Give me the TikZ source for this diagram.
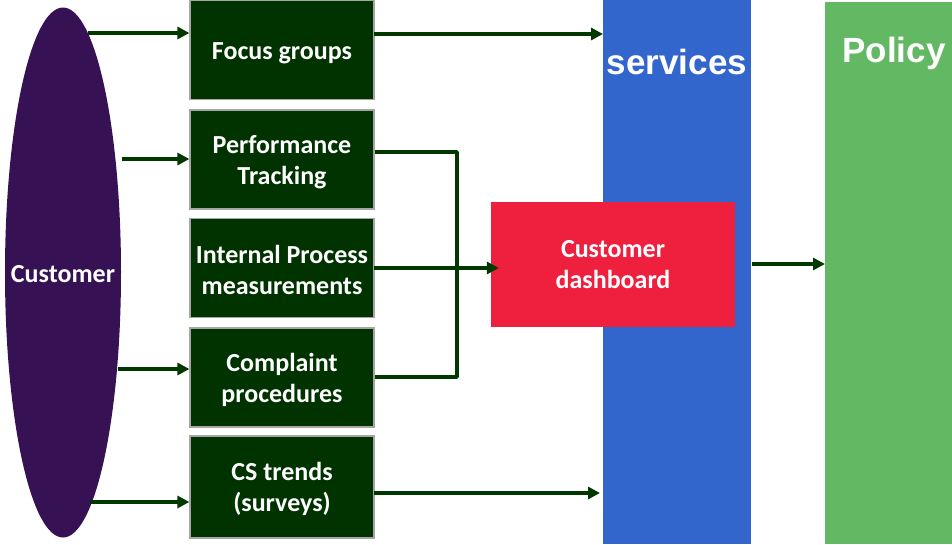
\documentclass[tikz,border=0pt]{standalone}
\usepackage{fontspec}
\setmainfont{Carlito}
\newfontfamily\arialfont{Liberation Sans}
\usetikzlibrary{arrows.meta,shapes.geometric}
\definecolor{custpurple}{RGB}{54,18,84}
\definecolor{boxgreen}{RGB}{0,51,0}
\definecolor{linegreen}{RGB}{0,56,0}
\definecolor{servblue}{RGB}{51,102,204}
\definecolor{polgreen}{RGB}{99,185,99}
\definecolor{dashred}{RGB}{238,32,62}
\tikzset{
  bodyfont/.style={font=\fontsize{26}{31.5}\selectfont\bfseries},
  srcbox/.style={draw=gray!70, line width=1.2pt, fill=boxgreen,
    minimum width=184pt, minimum height=99pt, inner sep=0pt},
  boxtext/.style={text=white, inner sep=0pt, align=center, bodyfont},
  arr/.style={draw=linegreen, line width=3.5pt, -{Triangle[length=12pt,width=12pt]}},
  plain/.style={draw=linegreen, line width=3.5pt, line join=round},
  bigtext/.style={text=white, font=\arialfont\fontsize{35}{40}\selectfont\bfseries, inner sep=0pt}
}
\begin{document}
\begin{tikzpicture}[x=1pt,y=-1pt]
\useasboundingbox (0,0) rectangle (952,544);
% bars
\node[fill=servblue, minimum width=148pt, minimum height=544pt, inner sep=0pt, anchor=north west] (serv) at (603,0) {};
\node[bigtext] (servt) at (677,62) {services};
\node[fill=polgreen, minimum width=127pt, minimum height=542pt, inner sep=0pt, anchor=north west] (pol) at (825,2) {};
\node[bigtext] (polt) at (894,53) {Policy};
% customer
\node[ellipse, fill=custpurple, minimum width=116pt, minimum height=530pt, inner sep=0pt] (cust) at (63,272.5) {};
\node[boxtext] (custt) at (63,274) {Customer};
% boxes
\node[srcbox] (fg) at (282,50) {};
\node[boxtext] (fgt) at (282,53) {Focus groups};
\node[srcbox] (pt) at (282,159.5) {};
\node[boxtext] (ptt) at (282,162) {Performance\\Tracking};
\node[srcbox] (ip) at (282,268) {};
\node[boxtext] (ipt) at (282,270) {Internal Process\\measurements};
\node[srcbox] (cp) at (282,377.5) {};
\node[boxtext] (cpt) at (282,380) {Complaint\\procedures};
\node[srcbox, minimum height=102pt] (cs) at (282,487) {};
\node[boxtext] (cst) at (282,489) {CS trends\\(surveys)};
% dashboard
\node[fill=dashred, minimum width=244pt, minimum height=125pt, inner sep=0pt] (dash) at (613,264.5) {};
\node[boxtext] (dasht) at (613,264.5) {Customer\\dashboard};
% coordinates
\coordinate (e1) at (88,33);
\coordinate (e2) at (122,159);
\coordinate (e3) at (118,369);
\coordinate (e4) at (90,502);
\coordinate (f1) at (374,34);
\coordinate (b1) at (457,152);
\coordinate (b2) at (457,377);
\coordinate (i1) at (374,268);
\coordinate (c5) at (374,493);
\coordinate (d1) at (752,264);
% arrows from customer
\draw[arr] (e1) -- (e1 -| fg.west);
\draw[arr] (e2) -- (e2 -| pt.west);
\draw[arr] (e3) -- (e3 -| cp.west);
\draw[arr] (e4) -- (e4 -| cs.west);
% to services
\draw[arr] (f1) -- (f1 -| serv.west);
\draw[arr, shorten >=3pt] (c5) -- (c5 -| serv.west);
% bracket
\draw[plain] (pt.east |- b1) -- (b1) -- (b2) -- (cp.east |- b2);
\draw[arr, shorten >=-8pt] (i1) -- (i1 -| dash.west);
% to policy
\draw[arr] (d1) -- (d1 -| pol.west);
\end{tikzpicture}
\end{document}
